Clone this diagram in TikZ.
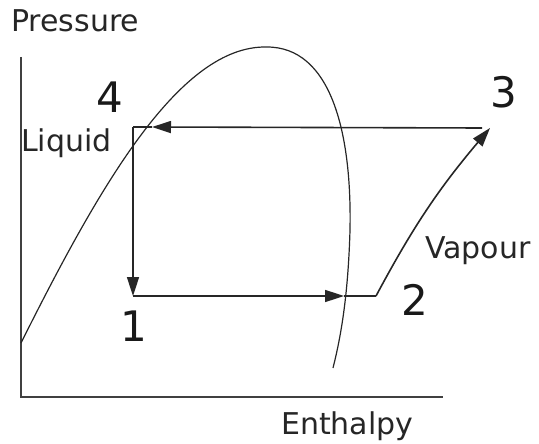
\documentclass[tikz,border=0pt]{standalone}
\usepackage{fontspec}
\setmainfont{DejaVu Sans}
\usetikzlibrary{arrows.meta}
\tikzset{
	labeltext/.style={font=\fontsize{30}{36}\selectfont, text=black!85, inner sep=0pt, anchor=base west}
}
\tikzset{
	pointtext/.style={font=\fontsize{42}{48}\selectfont, text=black!90, inner sep=0pt}
}
\tikzset{
	cycleline/.style={line width=1.6pt, draw=black!85},
	flow/.style={cycleline, -{Triangle[length=19pt,width=12pt]}}
}

\begin{document}
\begin{tikzpicture}[x=1pt,y=-1pt]
      \useasboundingbox (0,0) rectangle (539,444);
      % axes
      \coordinate (origin) at (21,397);
      \coordinate (ptop) at (21,57);
      \coordinate (hend) at (443,397);
      \draw[line width=1.6pt, black!75] (ptop) -- (origin) -- (hend);
      \node[labeltext] (pressure) at (11,32) {Pressure};
      \node[labeltext] (enthalpy) at (281,434) {Enthalpy};
      % saturation dome
      \coordinate (domeleft) at (21,343);
      \coordinate (domepeak) at (267,47);
      \coordinate (domeside) at (350,230);
      \coordinate (domeend) at (333,368);
      \draw[line width=1.2pt, black!85] (domeleft)
        .. controls (100,185) and (180,45) .. (domepeak)
        .. controls (330,47) and (352,130) .. (domeside)
        .. controls (348,300) and (340,340) .. (domeend);
      % cycle corners
      \coordinate (c4) at (133,127);
      \coordinate (c1) at (133,296);
      \coordinate (c2) at (376,296);
      \coordinate (c3) at (490,128);
      \coordinate (top3) at (482,128);
      \coordinate (dome4) at (152,127);
      \coordinate (dome2) at (344,296);
      \draw[flow] (top3) -- (dome4);
      \draw[cycleline] (dome4) -- (c4);
      \draw[flow] (c4) -- (c1);
      \draw[flow] (c1) -- (dome2);
      \draw[cycleline] (dome2) -- (c2);
      \draw[flow] (c2) to[bend left=6] (c3);
      % labels
      \node[labeltext] (liquid) at (21,152) {Liquid};
      \node[labeltext] (vapour) at (425,258) {Vapour};
      \node[pointtext] (p4) at (110,97) {4};
      \node[pointtext] (p3) at (504,92) {3};
      \node[pointtext] (p2) at (415,300) {2};
      \node[pointtext] (p1) at (134,326) {1};
    \end{tikzpicture}
\end{document}
